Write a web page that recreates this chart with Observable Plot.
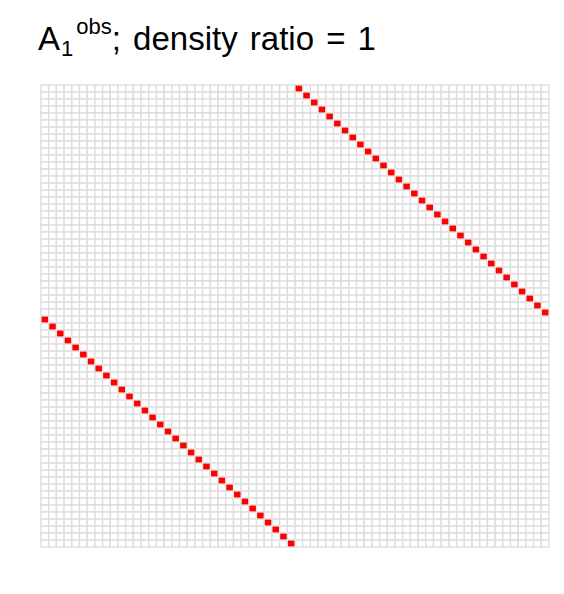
<!DOCTYPE html>
<html>
<head>
<meta charset="utf-8">
<script src="https://cdn.jsdelivr.net/npm/d3@7"></script>
<script src="https://cdn.jsdelivr.net/npm/@observablehq/plot@0.6"></script>
<style>
  html, body { margin: 0; padding: 0; background: #fff; overflow: hidden; }
  #wrap { width: 564px; height: 594px; position: relative; overflow: hidden; font-family: "Liberation Sans", Arial, Helvetica, sans-serif; }
  #title { position: relative; height: 70px; color: #000; }
  #title .m { position: absolute; left: 38px; top: 21.5px; font-size: 33px; line-height: 33px; white-space: nowrap; word-spacing: 3px; }
  #title .sub { position: relative; font-size: 22px; top: 6px; margin-left: 1px; }
  #title .sup { position: relative; font-size: 22px; top: -16px; margin-left: 3px; }
  #chart svg { display: block; max-width: none !important; width: 564px; height: 524px; }
</style>
</head>
<body>
<div id="wrap">
  <div id="title"><span class="m">A<span class="sub">1</span><span class="sup">obs</span>; density ratio = 1</span></div>
  <div id="chart"></div>
</div>
<script>
// Matrix size (rows and columns indices)
const rowIndex = d3.range(66);
const colIndex = d3.range(66);
// Column of the observed (red) cell in each row, rows 0..65 top to bottom
const redCols = [
  33,34,35,36,37,38,39,40,41,42,43,44,45,46,47,48,49,50,51,52,53,54,55,56,57,58,59,60,61,62,63,64,65,
  0,1,2,3,4,5,6,7,8,9,10,11,12,13,14,15,16,17,18,19,20,21,22,23,24,25,26,27,28,29,30,31,32
];

const allCells = d3.cross(rowIndex, colIndex).map(([r, c]) => ({row: r, col: c}));
const redCells = redCols.map((c, r) => ({row: r, col: c}));

const chart = Plot.plot({
  width: 564,
  height: 524,
  marginTop: 10,
  marginBottom: 42,
  marginLeft: 41,
  marginRight: 15,
  x: {type: "band", domain: colIndex, padding: 0, axis: null},
  y: {type: "band", domain: rowIndex, padding: 0, axis: null},
  marks: [
    Plot.cell(allCells, {x: "col", y: "row", fill: "white", stroke: "#dedede", strokeWidth: 1.4, inset: 0}),
    Plot.cell(redCells, {x: "col", y: "row", fill: "#ff0000", stroke: "#e8e8e8", strokeWidth: 1.2, inset: 0})
  ]
});
document.getElementById("chart").appendChild(chart);
</script>
</body>
</html>
